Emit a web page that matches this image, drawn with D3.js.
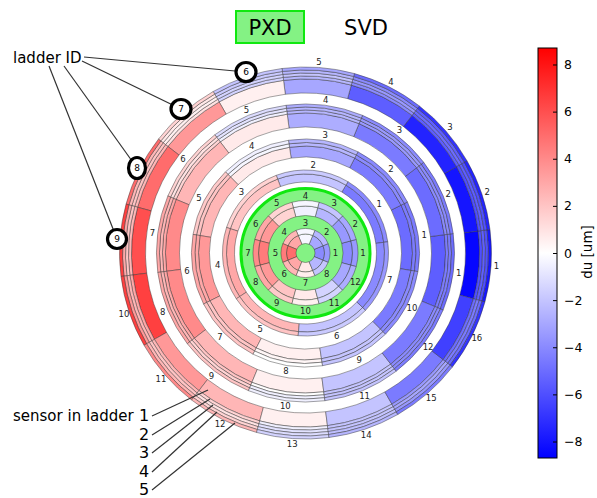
<!DOCTYPE html>
<html>
<head>
<meta charset="utf-8">
<script src="https://cdn.jsdelivr.net/npm/d3@7"></script>
<style>
  body { margin: 0; background: #fff; }
  text { font-family: "DejaVu Sans", sans-serif; }
</style>
</head>
<body>
<svg id="chart" width="597" height="498"></svg>
<script>
// du [um] per ladder, one value per sensor (sensor 1 = innermost ring)
const pxdLayer1 = [[-4,-3.5],[-3,-2.5],[-0.3,-0.3],[3,2.5],[5,4.5],[3,2.5],[0.8,0.6],[-2.5,-2]]
const pxdLayer2 = [[-4,-3.5],[-3.5,-3],[-2.5,-2],[-0.5,-0.3],[1.5,1.5],[3.5,3],[4.5,4],[3.5,3],[2,1.8],[0.7,0.5],[-1.5,-1.5],[-3,-2.8]]
const svdLayer3 = [[-4.5,-4],[-2,-1.8],[2,1.5],[3,2.5],[2.5,2],[-2,-1.8],[-4,-3.5]]
const svdLayer4 = [[-5,-4.5,-4.5],[-4.5,-4,-4],[-3,-2.5,-2.5],[0.7,-0.3,-0.5],[2.5,2,1.8],
                   [3.5,3,3],[2.5,2,2],[0.5,0.3,0],[-2,-2,-2],[-4.5,-4,-4]]
const svdLayer5 = [[-5.5,-4.5,-4.5,-5],[-5,-4,-4,-4.5],[-4.5,-3.5,-3.5,-4],[-2.8,-2.5,-2.5,-2.8],
                   [0.7,-0.5,-1,-1.2],[2.5,1.5,1,1.5],[4,3,2.5,3],[4,3,2.5,3],
                   [2.5,2,1.5,2],[0.5,0,-0.5,-0.5],[-2,-2,-2,-2],[-4.5,-4,-4,-4.5]]
const svdLayer6 = [[-8.5,-6,-5.5,-6,-8],[-8,-6,-5.5,-6,-7.5],[-7.5,-5.5,-5,-5.5,-7],[-5.5,-4,-3.5,-4,-5],
                   [-3,-2.5,-2,-2.5,-3],[0.5,-1.5,-1.5,-1.8,-2],[3.5,1,0.5,0.8,1.5],[5,2.5,2,2.5,5],
                   [6,2.5,2,3,6.5],[6.5,3,2.5,3.5,6.5],[3.5,2.5,2,2.5,4],[2.5,1.5,1,1.5,2.5],
                   [0.5,-0.5,-1,-1.2,-1.5],[-2,-2,-2,-2.2,-2.5],[-4.5,-3.5,-3,-3.5,-4.5],[-6.5,-5,-4.5,-5,-7]]

const cbTicks = [-8,-6,-4,-2,0,2,4,6,8]
const duMax = 8.7
const pointedLadders = [6,7,8,9]
const sensorNames = [1,2,3,4,5]

const svg = d3.select('#chart')
const cx = 305.5, cy = 253

const color = d3.scaleLinear().domain([-duMax, 0, duMax]).range(['#0000ff', '#ffffff', '#ff0000'])

// ring geometry: phi0 = centre angle of ladder 1 (deg, ccw from +x), w1 = weight of the thick sensor 1
const layers = [
  { values: pxdLayer1, phi0: 0,    r: [9.5, 24.5],  w1: 1.7,  labelR: 30 },
  { values: pxdLayer2, phi0: 0,    r: [37.5, 52.5], w1: 1.7,  labelR: 57.5 },
  { values: svdLayer3, phi0: 33.5, r: [71, 83],     w1: 2,    labelR: 88.5 },
  { values: svdLayer4, phi0: 8.6,  r: [96, 114],    w1: 3.1,  labelR: 120 },
  { values: svdLayer5, phi0: -7.5, r: [126, 149],   w1: 4.7,  labelR: 154.5 },
  { values: svdLayer6, phi0: -4,   r: [160, 186],   w1: 4.7,  labelR: 191.5 }
]

const g = svg.append('g').attr('transform', `translate(${cx},${cy})`)

// PXD background disk
g.append('circle')
  .attr('r', 64.5)
  .attr('fill', '#84f284')
  .attr('stroke', '#10e810')
  .attr('stroke-width', 3)

const arc = d3.arc()
const rad = Math.PI / 180

layers.forEach(layer => {
  const n = layer.values.length
  const nSens = layer.values[0].length
  const phi = d3.scaleLinear().domain([0, n]).range([layer.phi0 - 180 / n, layer.phi0 - 180 / n + 360])
  const rScale = d3.scaleLinear().domain([0, layer.w1 + nSens - 1]).range(layer.r)
  const edge = s => s === 0 ? 0 : layer.w1 + s - 1

  const cells = []
  layer.values.forEach((sens, i) => {
    sens.forEach((v, s) => cells.push({ i, s, v }))
  })

  g.append('g').selectAll('path')
    .data(cells)
    .enter()
    .append('path')
    .attr('d', d => arc({
      innerRadius: rScale(edge(d.s)),
      outerRadius: rScale(edge(d.s + 1)),
      startAngle: (90 - phi(d.i + 1)) * rad,
      endAngle: (90 - phi(d.i)) * rad
    }))
    .attr('fill', d => color(d.v))
    .attr('stroke', '#333')
    .attr('stroke-opacity', 0.75)
    .attr('stroke-width', 0.6)

  g.append('g').selectAll('text')
    .data(layer.values.map((d, i) => i))
    .enter()
    .append('text')
    .text(i => i + 1)
    .attr('x', i => layer.labelR * Math.cos(phi(i + 0.5) * rad))
    .attr('y', i => -layer.labelR * Math.sin(phi(i + 0.5) * rad))
    .attr('text-anchor', 'middle')
    .attr('dominant-baseline', 'central')
    .style('font-size', '8.5px')
    .attr('fill', '#222')
})

// PXD / SVD headers
svg.append('rect')
  .attr('x', 236).attr('y', 11).attr('width', 68).attr('height', 32)
  .attr('fill', '#84f284').attr('stroke', '#10e810').attr('stroke-width', 2)
svg.append('text').text('PXD').attr('x', 270).attr('y', 35)
  .attr('text-anchor', 'middle').style('font-size', '21px')
svg.append('text').text('SVD').attr('x', 366).attr('y', 35)
  .attr('text-anchor', 'middle').style('font-size', '21px')

// ladder ID annotation
const ladderMarks = [
  { cx: 246, cy: 72,  rx: 10,  ry: 9.5, from: [84, 57] },
  { cx: 181, cy: 109, rx: 10,  ry: 9.5, from: [82, 61] },
  { cx: 137, cy: 168, rx: 8.5, ry: 10.5, from: [64, 66] },
  { cx: 117, cy: 239, rx: 9.5, ry: 9.5, from: [49, 66] }
]
svg.append('text').text('ladder ID').attr('x', 13).attr('y', 63).style('font-size', '15px')
svg.selectAll('line.lid')
  .data(ladderMarks)
  .enter()
  .append('line')
  .attr('class', 'lid')
  .attr('x1', d => d.from[0]).attr('y1', d => d.from[1])
  .attr('x2', d => d.cx).attr('y2', d => d.cy)
  .attr('stroke', '#333').attr('stroke-width', 1.2)
svg.selectAll('ellipse.lid')
  .data(ladderMarks)
  .enter()
  .append('ellipse')
  .attr('class', 'lid')
  .attr('cx', d => d.cx).attr('cy', d => d.cy)
  .attr('rx', d => d.rx).attr('ry', d => d.ry)
  .attr('fill', '#fff').attr('stroke', '#000').attr('stroke-width', 3.2)
svg.selectAll('text.lid')
  .data(ladderMarks)
  .enter()
  .append('text')
  .attr('class', 'lid')
  .text((d, i) => pointedLadders[i])
  .attr('x', d => d.cx).attr('y', d => d.cy)
  .attr('text-anchor', 'middle').attr('dominant-baseline', 'central')
  .style('font-size', '9px')

// sensor in ladder annotation
const sensorMarks = [
  { y: 421, to: [208, 390] },
  { y: 440, to: [210, 399] },
  { y: 458, to: [213, 405] },
  { y: 477, to: [217, 412] },
  { y: 495, to: [235, 423] }
]
svg.append('text').text('sensor in ladder').attr('x', 13).attr('y', 421).style('font-size', '15px')
svg.selectAll('text.sil')
  .data(sensorMarks)
  .enter()
  .append('text')
  .attr('class', 'sil')
  .text((d, i) => sensorNames[i])
  .attr('x', 144).attr('y', d => d.y)
  .attr('text-anchor', 'middle')
  .style('font-size', '16px')
svg.selectAll('line.sil')
  .data(sensorMarks)
  .enter()
  .append('line')
  .attr('class', 'sil')
  .attr('x1', 152).attr('y1', d => d.y - 5)
  .attr('x2', d => d.to[0]).attr('y2', d => d.to[1])
  .attr('stroke', '#333').attr('stroke-width', 1.2)

// colorbar
const cbX = 538, cbW = 19, cbTop = 48, cbBottom = 458
const cbScale = d3.scaleLinear().domain([-duMax, duMax]).range([cbBottom, cbTop])
const grad = svg.append('defs').append('linearGradient')
  .attr('id', 'cbgrad').attr('x1', 0).attr('y1', 1).attr('x2', 0).attr('y2', 0)
grad.selectAll('stop')
  .data([-duMax, 0, duMax])
  .enter()
  .append('stop')
  .attr('offset', d => (d + duMax) / (2 * duMax))
  .attr('stop-color', d => color(d))
svg.append('rect')
  .attr('x', cbX).attr('y', cbTop).attr('width', cbW).attr('height', cbBottom - cbTop)
  .attr('fill', 'url(#cbgrad)').attr('stroke', '#000').attr('stroke-width', 1)

const cbAxis = d3.axisRight(cbScale).tickValues(cbTicks).tickSize(-4).tickPadding(7)
const cbG = svg.append('g')
  .attr('transform', `translate(${cbX + cbW},0)`)
  .call(cbAxis)
cbG.select('.domain').remove()
cbG.selectAll('text').style('font-size', '12.5px').attr('fill', '#000')
cbG.selectAll('line').attr('stroke', '#000')

svg.append('text').text('du [um]')
  .attr('transform', 'translate(592,252) rotate(-90)')
  .attr('text-anchor', 'middle')
  .style('font-size', '13.5px')
</script>
</body>
</html>
